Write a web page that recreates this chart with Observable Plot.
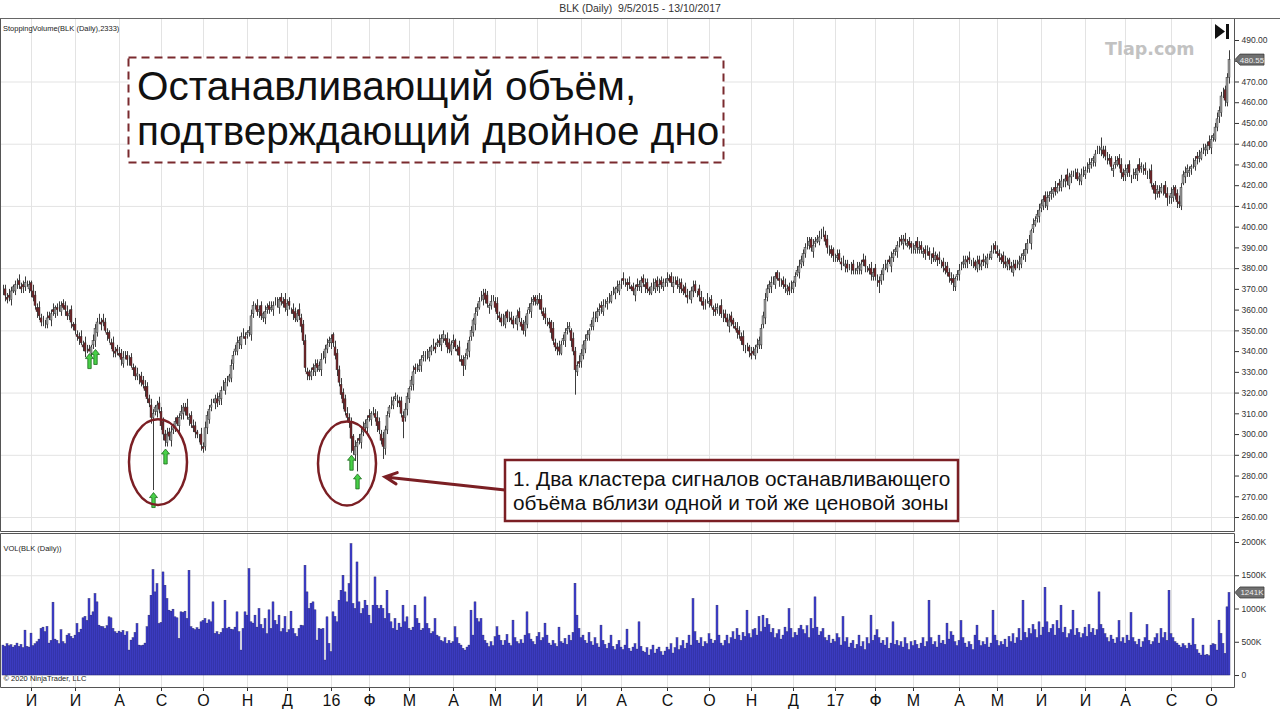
<!DOCTYPE html>
<html><head><meta charset="utf-8">
<script src="https://cdn.jsdelivr.net/npm/d3@7"></script>
<script src="https://cdn.jsdelivr.net/npm/@observablehq/plot@0.6"></script>
<style>
body{margin:0;background:#fff;font-family:"Liberation Sans",Arial,sans-serif;}
#title{height:19px;box-sizing:border-box;border-bottom:1px solid #666;text-align:center;font-size:10.5px;line-height:17px;color:#333;white-space:pre;}
svg{display:block}
[aria-label^="y-axis"] text{font-size:8.5px;fill:#333}
[aria-label^="x-axis"] text{font-size:16px;fill:#111}
</style></head><body>
<div id="title">BLK (Daily)  9/5/2015 - 13/10/2017</div>
<div id="chart"></div>
<script>
// ---------- data ----------
const startDay = [2015, 4, 11];
const holidays = ["2015-05-25","2015-07-03","2015-09-07","2015-11-26","2015-12-25","2016-01-01","2016-01-18","2016-02-15","2016-03-25","2016-05-30","2016-07-04","2016-09-05","2016-11-24","2016-12-26","2017-01-02","2017-01-16","2017-02-20","2017-04-14","2017-05-29","2017-07-04","2017-09-04"];
const monthNames = ["Я","Ф","М","А","М","И","И","А","С","О","Н","Д"];

// daily closes
const close = [
369,367,365,366,369,371,372,373,372,370,
371,373,372,372,369,366,362,359,357,354,
355,353,356,356,358,359,361,360,361,362,
361,360,357,358,354,352,350,347,346,344,
342,340,341,340,342,345,351,354,355,353,
354,350,348,346,343,340,339,340,338,336,
337,338,336,335,333,331,328,329,327,325,
324,321,317,315,308,310,313,314,312,304,
300,297,300,299,301,303,306,305,308,311,
313,311,309,308,305,303,301,300,298,295,
293,303,309,312,314,316,317,315,318,321,
323,325,326,328,333,338,341,344,345,347,
348,346,349,350,357,362,361,359,360,357,
358,359,361,360,361,362,364,363,365,364,
363,361,363,362,360,358,356,358,357,352,
345,332,329,328,330,331,333,332,333,336,
338,341,343,345,346,344,338,331,325,319,
315,311,308,306,298,292,294,296,297,300,
303,305,307,308,310,311,308,304,302,297,
294,302,309,313,315,316,318,316,315,310,
306,312,318,322,326,330,331,332,333,336,
338,337,339,340,342,343,341,344,344,346,
348,345,342,341,343,345,342,340,338,335,
333,337,341,345,350,355,358,361,364,366,
367,365,363,362,364,365,361,358,356,354,
355,357,356,357,355,353,354,357,356,352,
350,354,358,361,363,365,364,365,363,360,
357,356,354,353,349,345,342,341,340,343,
346,349,351,352,345,340,331,333,334,339,
343,345,348,350,353,356,357,359,360,361,
362,363,364,365,367,369,370,371,372,373,
374,373,372,372,370,369,370,371,372,374,
373,371,370,369,371,372,373,371,372,372,
373,374,375,374,373,373,374,372,372,370,
369,368,366,367,369,371,369,368,367,364,
362,363,365,364,362,360,359,361,360,358,
357,356,354,355,354,353,351,349,348,345,
343,341,342,340,338,339,341,343,345,351,
357,365,370,372,373,374,376,375,374,373,
372,371,370,369,371,373,376,379,381,384,
387,390,392,393,390,391,393,394,395,397,
397,393,390,388,387,386,385,386,384,382,
383,382,380,381,380,379,378,380,381,382,
383,381,380,379,377,378,376,374,373,377,
380,381,382,383,385,387,389,391,392,393,
394,393,392,391,390,389,391,390,390,389,
388,387,388,386,385,385,386,384,384,382,
381,379,378,376,374,373,375,377,379,381,
383,384,383,384,382,383,381,383,382,382,
383,384,385,386,388,390,389,387,386,384,
383,382,383,382,380,381,380,382,383,385,
387,389,392,394,398,401,403,406,408,411,
413,412,414,415,417,418,417,419,420,422,
421,423,422,424,425,426,425,423,424,425,
426,427,429,430,431,433,435,436,437,438,
435,434,433,432,429,428,431,432,430,426,
424,427,428,426,424,425,426,428,427,429,
428,427,425,426,421,418,416,418,416,419,
418,416,414,413,416,418,415,412,411,419,
425,426,428,427,429,430,432,433,434,436,
437,438,439,439,442,444,448,452,456,463,
464,461,472,480.55];

// opening gap versus the previous close
const openGap = [
0,1,-1,2,-1,0,-2,1,1,-1,2,0,-1,-2,1,0,1,-1,2,-1,
1,-2,0,1,-1,2,-1,0,1,-2,1,1,-1,0,2,-1,1,-2,0,1,
-1,2,1,0,-1,1,0,-2,1,-1,2,0,-1,1,-2,1,0,2,-1,1,
-2,1,0,-1,2,-1,1,0,-2,1,1,-1,2,0,-1,0,1,-2,1,-1,
2,0,-1,1,-2,1,0,2,-1,1,-1,0,2,-2,1,-1,1,0,-2,2,
-1,1,0,-2,1,2,-1,0,1,-1,2,-2,1,0,-1,1,2,-1,0,-2,
1,-1,2,0,-2,1,-1,1,0,2,-1,-2,1,1,0,-1,2,-1,-2,1,
0,2,-1,1,-2,0,1,-1,2,-1,1,0,-2,1,0,2,-1,1,-1,-2,
2,-1,0,1,-1,2,-2,1,0,-1,1,2,-1,0,0,1,-2,0,2,-1,
1,0,-2,2,-1,1,-1,0,2,-2,1,-1,0,1,2,-1,1,-2,0,1,
-1,2,0,-1,1,-2,2,1,-1,0,1,-1,2,-2,0,1,-1,2,1,-1,
0,-2,1,2,-1,1,0,-1,2,-2,1,0,1,-1,2,-1,-2,1,0,2,
-1,1,2,-2,0,1,-1,2,-1,0,1,-2,2,1,-1,0,1,-1,2,-2,
1,0,-1,2,-2,1,1,-1,0,2,-1,1,-2,0,1,2,-1,0,1,-1,
2,-1,1,0,-2,1,0,-1,2,1,-1,-2,1,0,2,-1,1,-1,0,2,
-2,1,0,1,-1,2,-1,0,-2,1,2,-1,0,1,-1,1,-2,2,0,-1,
1,-1,2,0,-1,1,-2,1,0,2,-1,1,-1,0,2,-2,1,0,-1,1,
0,2,-1,1,-2,0,1,-1,2,-1,0,1,2,-2,1,-1,0,1,-1,2,
-1,1,0,-2,2,1,-1,0,1,-1,2,-2,1,0,-1,2,-1,1,0,-2,
2,-1,1,0,-1,1,-2,2,0,-1,1,0,-2,1,2,-1,0,1,-1,1,
-1,0,2,-1,1,-2,1,0,-1,2,0,-1,1,-2,1,2,-1,0,1,-1,
1,-2,0,1,-1,2,-1,1,0,-2,2,1,-1,0,1,-1,2,-2,0,1,
0,1,-1,2,-2,0,1,-1,1,2,-1,0,-2,1,1,-1,0,2,-1,1,
-2,1,1,0,-1,2,-1,0,1,-2,1,-1,2,0,-1,1,-2,1,0,2,
1,-1,0,2,-2,1,0,-1,1,-1,2,0,-2,1,-1,2,1,-1,0,-1,
2,0,-1,1,-1,-2,1,2,0,-1,1,-1,0,2,-2,1,0,1,-1,1,
-1,2,-2,0,1,-1,1,0,2,-1,-1,1,2,-2,0,1,-1,1,0,-2,
1,-1,2,-1,0,1,-2,1,1,0,-1,2,-1,0,1,-2,2,-1,1,0,
0,1,-1,2,-2,1,0,-1,2,1,-1,0,-2,1,1,-1,2,0,-1,1,
-1,2,0,-1,1,-2,1,1,0,-1,2,-1,0,-2,1,1,-1,2,0,-1,
1,0,-1,2,-1,1,-2,0,1,-1,1,2,-1,0];

const wickUp = [
3,2,2,3,2,1,2,2,3,2,2,3,2,2,1,3,2,2,3,2,
2,2,3,2,2,3,1,2,3,2,2,2,3,2,2,1,3,2,2,3,
2,3,2,2,1,3,2,2,3,2,3,2,2,1,2,3,2,2,3,2,
3,2,2,3,2,2,1,3,2,2,2,3,2,2,3,2,1,2,3,2,
2,2,3,2,3,2,2,1,2,3,2,2,4,2,2,3,2,1,2,3,
2,3,2,2,3,1,2,3,2,2,3,2,2,1,3,2,2,3,2,2,
3,2,1,2,3,2,2,3,2,2,1,3,2,2,3,2,2,3,1,2,
2,3,2,2,1,3,2,2,3,2,2,3,2,1,2,2,3,2,2,3,
2,2,3,2,2,1,3,2,2,3,2,2,3,2,2,1,3,2,2,3,
3,2,2,3,1,2,2,3,2,2,3,2,2,1,3,2,2,3,2,2,
2,3,2,1,2,3,2,2,3,2,2,3,2,2,1,3,2,2,3,2,
2,2,3,2,2,3,1,2,3,2,2,2,3,2,2,1,3,2,2,3,
3,2,2,1,3,2,2,3,2,2,3,2,1,2,3,2,2,3,2,2,
2,3,2,2,3,2,1,2,3,2,2,3,2,2,1,3,2,2,3,2,
2,2,3,2,1,3,2,2,3,2,2,3,2,1,2,3,2,2,3,2,
3,2,2,3,2,2,1,3,2,2,3,2,2,3,1,2,2,3,2,2,
2,3,2,1,2,3,2,2,3,2,2,1,3,2,2,3,2,2,3,2,
2,2,3,2,2,3,2,1,2,3,2,2,3,2,2,1,3,2,2,3,
3,2,2,3,2,1,2,3,2,2,3,2,2,1,3,2,2,3,2,2,
2,3,2,2,3,2,2,1,3,2,2,3,2,2,3,1,2,2,3,2,
2,2,3,2,1,3,2,2,3,2,3,2,2,3,2,1,2,3,2,2,
3,2,2,1,3,2,2,3,2,2,3,2,1,2,3,2,2,3,2,2,
2,3,2,2,3,2,1,2,3,2,2,3,2,2,1,3,2,2,3,2,
2,2,3,2,2,3,2,1,3,2,2,3,2,2,3,2,1,2,3,2,
3,2,2,3,2,2,1,3,2,2,3,2,2,1,3,2,2,3,2,2,
2,3,2,1,2,3,2,2,3,2,2,3,2,2,1,3,2,2,3,2,
2,2,3,2,2,1,3,2,2,3,2,2,3,2,2,1,3,2,2,3,
3,2,2,3,2,1,2,3,2,5,2,2,3,2,1,2,3,2,2,3,
2,3,2,2,1,3,2,2,3,2,2,3,2,2,3,1,2,2,3,2,
2,2,3,2,3,2,1,2,3,2,2,3,2,2,1,3,2,2,3,2,
3,2,2,3,2,1,2,3,2,2,3,2,2,4.5];

const wickDn = [
2,3,2,2,3,1,2,3,2,2,3,2,1,2,3,2,2,3,2,2,
3,2,2,1,3,2,2,3,2,2,1,3,2,2,3,2,2,2,3,1,
2,3,2,0,2,2,3,2,2,3,2,1,3,2,2,3,2,2,1,3,
2,2,3,2,1,3,2,2,3,2,2,3,2,2,3,35,2,3,2,2,
3,3,2,2,3,2,2,1,3,2,3,2,2,3,2,2,3,2,2,3,
2,2,3,2,2,1,3,2,2,3,2,2,3,1,2,3,2,2,3,2,
2,3,2,2,3,2,1,2,3,2,2,3,2,2,1,3,2,2,3,2,
2,2,3,2,2,3,2,1,2,3,2,2,3,2,2,3,2,2,1,3,
2,3,2,2,3,2,2,3,2,2,3,2,2,3,7,2,3,12,2,3,
2,2,3,2,3,2,2,3,2,2,6,3,2,2,3,2,1,3,2,2,
8,2,3,2,2,3,2,2,1,3,2,2,3,2,2,3,2,1,2,3,
2,2,3,2,2,3,2,2,3,2,5,2,2,3,2,2,3,2,1,2,
3,2,2,3,2,1,2,3,2,2,3,2,2,3,2,2,1,3,2,2,
2,3,2,2,3,2,2,1,3,2,2,3,2,2,3,2,2,3,2,1,
2,3,2,2,3,2,12,2,2,3,2,2,1,3,2,2,3,2,2,3,
2,2,3,2,1,2,3,2,2,3,2,2,3,2,1,2,3,2,2,3,
2,3,2,2,1,3,2,2,3,2,2,3,2,1,2,3,2,2,3,2,
2,2,3,2,2,3,1,2,3,2,2,3,2,2,1,3,2,2,3,2,
3,2,2,3,2,2,1,3,2,2,3,2,2,3,2,1,2,3,2,2,
2,3,2,2,3,2,2,1,3,2,2,3,2,2,3,2,2,1,3,2,
2,2,3,2,2,3,2,1,2,3,2,2,3,2,2,3,2,2,1,3,
2,3,2,2,3,2,1,2,3,2,2,3,2,2,3,2,2,3,5,2,
3,2,2,1,3,2,2,3,2,2,3,2,1,2,3,2,2,3,2,2,
2,3,2,2,3,2,1,3,2,2,3,2,2,3,2,4,2,2,3,2,
2,2,3,2,1,3,2,2,3,2,2,3,2,2,1,3,2,2,3,2,
3,2,2,3,2,2,1,2,3,2,2,3,2,2,3,2,1,2,3,2,
2,3,2,2,3,2,2,1,3,2,2,3,2,2,3,2,2,1,3,2,
2,2,3,2,2,3,2,1,2,3,2,2,3,2,2,3,2,1,2,3,
2,3,2,2,3,2,2,3,1,2,3,2,2,3,2,2,3,2,2,1,
3,2,4,2,3,2,2,3,2,2,1,3,2,2,3,2,2,3,2,1,
2,3,2,2,3,2,1,2,3,2,2,3,2,3];

const volumeK = [
450,430,470,440,455,420,445,480,430,460,
410,675,430,420,630,440,470,500,540,700,
720,650,730,480,520,1095,540,520,470,680,
500,470,600,620,580,550,600,775,640,690,
860,880,820,1150,900,950,1225,1100,750,730,
725,700,740,875,860,700,650,630,660,640,
670,600,650,375,525,560,640,775,450,440,
450,480,725,900,1200,1585,1250,1375,775,790,
1550,1350,1150,975,960,990,875,860,550,950,
940,960,850,1575,725,700,680,710,690,800,
820,850,780,830,800,1100,625,650,610,640,
700,1125,700,720,690,680,720,950,650,375,
700,950,900,1600,800,780,900,720,1000,760,
700,850,620,980,700,1100,820,760,900,650,
700,880,640,680,960,700,620,580,700,750,
740,1650,1250,1000,1080,1100,980,525,700,690,
700,225,875,475,350,950,880,800,1125,1275,
1500,1250,1100,1375,1975,1075,1000,1700,1100,925,
1000,1125,1050,900,775,1050,1475,1050,1000,1050,
1000,850,1275,925,800,700,850,675,780,720,
1050,800,875,700,675,720,1050,850,780,675,
700,1175,775,700,625,650,850,600,575,520,
500,560,475,520,480,500,725,560,475,450,
400,375,420,450,975,600,1100,850,800,850,
600,520,480,425,500,440,575,725,600,520,
450,520,610,480,440,825,560,500,470,530,
480,600,950,620,540,500,460,580,640,520,
560,780,600,480,450,520,470,430,720,500,
480,550,460,600,520,640,1380,900,700,560,
600,520,480,640,500,450,560,470,420,750,
520,460,400,480,600,430,380,460,520,420,
380,450,690,400,360,420,470,390,800,430,
360,340,410,300,380,450,330,390,420,350,
300,360,420,380,470,330,410,560,380,440,
520,400,480,600,450,1150,650,520,480,560,
430,500,470,620,540,480,520,1050,600,480,
440,520,600,470,560,650,540,700,600,520,
640,580,975,620,560,680,700,600,880,650,
900,720,850,760,640,700,560,620,680,540,
600,720,650,1000,700,560,640,600,700,750,
680,620,740,560,850,700,1175,720,600,650,
700,560,520,600,480,540,500,620,560,450,
880,500,560,420,480,520,400,460,600,430,
500,380,560,470,900,520,600,680,560,480,
520,450,560,400,480,800,460,520,440,500,
420,560,470,380,500,440,520,460,400,480,
560,430,500,1125,560,460,500,420,600,480,
520,460,780,540,650,600,500,440,520,820,
560,480,420,500,460,380,600,750,520,440,
500,460,560,420,480,975,600,520,440,500,
460,540,420,580,500,620,480,560,700,520,
1125,640,560,700,620,760,680,560,800,600,
720,1320,800,640,700,760,600,820,700,1050,
640,720,560,620,680,975,600,700,640,560,
620,720,580,760,640,700,600,680,1250,760,
700,620,560,500,600,540,480,560,820,500,
560,480,600,520,940,560,500,460,540,420,
500,560,760,520,460,500,560,620,480,700,
560,640,520,1275,620,560,500,480,450,420,
470,440,400,480,450,850,460,380,330,300,
450,300,310,290,450,470,460,375,825,625,
475,325,1025,1241];

const signalBars = [43, 46, 75, 81, 174, 177];
const priceTicks = [260,270,280,290,300,310,320,330,340,350,360,370,380,390,400,410,420,430,440,450,460,470,480,490];
const priceGrid = [260,290,320,350,380,410,440,470];
const volumeTicks = [0,500,1000,1500,2000];
const volumeGrid = [1500];
const lastPrice = 480.55, lastVolume = 1241;
const ellipses = [{i: 77.5, p: 286.5, ri: 14.5, rp: 20.7}, {i: 172, p: 285.8, ri: 14.5, rp: 20.2}];
const callout = {tip: {i: 191, p: 279.3}, tail: {i: 251, p: 273}};
const headline = ["Останавливающий объём,", "подтверждающий двойное дно"];
const calloutText = ["1. Два кластера сигналов останавливающего", "объёма вблизи одной и той же ценовой зоны"];

// ---------- derived table ----------
const dates = [];
for (let d = new Date(Date.UTC(...startDay)); dates.length < close.length; d.setUTCDate(d.getUTCDate() + 1)) {
  const w = d.getUTCDay(), iso = d.toISOString().slice(0, 10);
  if (w > 0 && w < 6 && !holidays.includes(iso)) dates.push(new Date(d));
}
const months = [];
dates.forEach((d, i) => {
  if (i && d.getUTCMonth() !== dates[i - 1].getUTCMonth())
    months.push({i, label: d.getUTCMonth() === 0 ? String(d.getUTCFullYear() % 100) : monthNames[d.getUTCMonth()]});
});
const labelAt = new Map(months.map(m => [m.i, m.label]));
const bars = close.map((c, i) => {
  const o = (i ? close[i - 1] : c) + openGap[i];
  return {i, o, c, up: c >= o, hi: Math.max(o, c) + wickUp[i], lo: Math.min(o, c) - wickDn[i], v: volumeK[i]};
});
const signals = signalBars.map(i => bars[i]);
const xDomain = [-1.5, close.length + 1.5];

const RED = "#7b1f24";
const upArrow = {draw(ctx) {
  ctx.moveTo(0, 0); ctx.lineTo(4, 5); ctx.lineTo(1.7, 5); ctx.lineTo(1.7, 15);
  ctx.lineTo(-1.7, 15); ctx.lineTo(-1.7, 5); ctx.lineTo(-4, 5); ctx.closePath();
}};

function border(top) {
  return (index, scales, values, dim) => {
    const g = d3.create("svg:g").attr("fill", "none").attr("stroke", "#555");
    const r = dim.width - dim.marginRight + 0.5, b = dim.height - dim.marginBottom + 0.5;
    g.append("path").attr("d", `M0.5,${top ? 0.5 : 0}V${b}H${r}V${top ? 0.5 : 0}` + (top ? `H0.5` : ""));
    return g.node();
  };
}
function tag(value, text) {
  return (index, {y}) => {
    const y0 = y(value), g = d3.create("svg:g");
    g.append("path").attr("d", `M1235,${y0}L1240,${y0 - 5.5}H1264V${y0 + 5.5}H1240Z`)
      .attr("fill", "#707070").attr("stroke", "#3a3a3a").attr("stroke-width", 0.8);
    g.append("text").attr("x", 1252).attr("y", y0 + 3).attr("text-anchor", "middle")
      .attr("font-size", 8).attr("fill", "#eee").text(text);
    return g.node();
  };
}
function headlineBox() {
  const g = d3.create("svg:g").attr("text-anchor", "start");
  g.append("rect").attr("x", 128.5).attr("y", 38.5).attr("width", 595).attr("height", 105)
    .attr("fill", "#fff").attr("stroke", "#7a2a2e").attr("stroke-width", 2).attr("stroke-dasharray", "8,5");
  headline.forEach((t, k) => g.append("text").attr("x", 137).attr("y", 81 + k * 45)
    .attr("font-size", 40.5).attr("fill", "#111").text(t));
  return g.node();
}
function annotations(index, {x, y}) {
  const g = d3.create("svg:g").attr("text-anchor", "start");
  const eg = g.append("g").attr("fill", "none").attr("stroke", RED).attr("stroke-width", 2.5);
  for (const e of ellipses)
    eg.append("ellipse").attr("cx", x(e.i)).attr("cy", y(e.p))
      .attr("rx", x(e.i + e.ri) - x(e.i)).attr("ry", y(e.p - e.rp) - y(e.p));
  const tx = x(callout.tip.i), ty = y(callout.tip.p), sx = x(callout.tail.i), sy = y(callout.tail.p);
  const a = Math.atan2(sy - ty, sx - tx), L = 13, s = 0.45;
  eg.append("path").attr("stroke-width", 3).attr("stroke-linecap", "round")
    .attr("d", `M${sx},${sy}L${tx},${ty}M${tx + L * Math.cos(a - s)},${ty + L * Math.sin(a - s)}L${tx},${ty}L${tx + L * Math.cos(a + s)},${ty + L * Math.sin(a + s)}`);
  g.append("rect").attr("x", 505).attr("y", 441).attr("width", 453).attr("height", 61)
    .attr("fill", "#fff").attr("stroke", RED).attr("stroke-width", 2.5);
  calloutText.forEach((t, k) => g.append("text").attr("x", 513).attr("y", 467 + k * 24)
    .attr("font-size", 20.8).attr("fill", "#111").text(t));
  return g.node();
}
function decorations() {
  const g = d3.create("svg:g").attr("text-anchor", "start");
  g.append("text").attr("x", 3).attr("y", 11.5).attr("font-size", 7.5).attr("fill", "#222")
    .text("StoppingVolume(BLK (Daily),2333)");
  g.append("text").attr("x", 1105).attr("y", 36).attr("font-size", 17.5).attr("font-weight", "bold")
    .attr("font-family", "DejaVu Sans").attr("fill", "#c2c2c2").text("Tlap.com");
  g.append("path").attr("d", "M1215,5L1225,12.5L1215,20Z").attr("fill", "#111");
  g.append("rect").attr("x", 1226).attr("y", 5).attr("width", 3).attr("height", 15).attr("fill", "#111");
  return g.node();
}

const baseStyle = {fontFamily: "Liberation Sans, Arial, sans-serif", background: "#fff", color: "#333", overflow: "visible"};

const price = Plot.plot({
  width: 1280, height: 514, marginTop: 0, marginBottom: 2, marginLeft: 0, marginRight: 46,
  style: baseStyle,
  x: {domain: xDomain, axis: null},
  y: {domain: [253.26, 500.13], axis: "right", ticks: priceTicks, tickFormat: d => d === 480 ? "" : d.toFixed(2), tickSize: 4, tickPadding: 3, label: null},
  marks: [
    Plot.ruleY(priceGrid, {stroke: "#e3e3e3"}),
    Plot.ruleX(months, {x: "i", stroke: "#e3e3e3"}),
    headlineBox,
    Plot.ruleX(bars, {x: "i", y1: "lo", y2: "hi", stroke: "#3c3c3c", strokeWidth: 1}),
    Plot.rect(bars, {filter: d => d.up, x1: d => d.i - 0.48, x2: d => d.i + 0.48, y1: "o", y2: "c", fill: "#a8a8a8", stroke: "#333", strokeWidth: 0.5}),
    Plot.rect(bars, {filter: d => !d.up, x1: d => d.i - 0.48, x2: d => d.i + 0.48, y1: "o", y2: "c", fill: "#7b1e23", stroke: "#333", strokeWidth: 0.5}),
    Plot.dot(signals, {x: "i", y: "lo", symbol: upArrow, r: 4, fill: "#48d048", stroke: "#1d6b1d", strokeWidth: 0.8, dy: 2}),
    annotations,
    decorations,
    tag(lastPrice, lastPrice.toFixed(2)),
    border(false)
  ]
});

const volume = Plot.plot({
  width: 1280, height: 184, marginTop: 0, marginBottom: 30, marginLeft: 0, marginRight: 46,
  style: baseStyle,
  x: {domain: xDomain, ticks: months.map(m => m.i), tickFormat: i => labelAt.get(i), tickSize: 4, tickPadding: 3, label: null},
  y: {domain: [-180, 2135], axis: "right", ticks: volumeTicks, tickFormat: d => d ? d + "K" : "0", tickSize: 4, tickPadding: 3, label: null},
  marks: [
    Plot.ruleY(volumeGrid, {stroke: "#e3e3e3"}),
    Plot.ruleX(months, {x: "i", stroke: "#e3e3e3"}),
    Plot.rect(bars, {x1: d => d.i - 0.5, x2: d => d.i + 0.5, y1: d => 0, y2: "v", fill: "#4444d8", stroke: "#1a1a5e", strokeWidth: 0.4}),
    Plot.text(["VOL(BLK (Daily))"], {frameAnchor: "top-left", dx: 3, dy: 12, text: d => d, textAnchor: "start", fontSize: 7.5, fill: "#222"}),
    Plot.text(["© 2020 NinjaTrader, LLC"], {frameAnchor: "bottom-left", dx: 3, dy: -7, text: d => d, textAnchor: "start", fontSize: 7.5, fill: "#222"}),
    tag(lastVolume, lastVolume + "K"),
    border(true)
  ]
});

document.getElementById("chart").append(price, volume);
</script></body></html>
